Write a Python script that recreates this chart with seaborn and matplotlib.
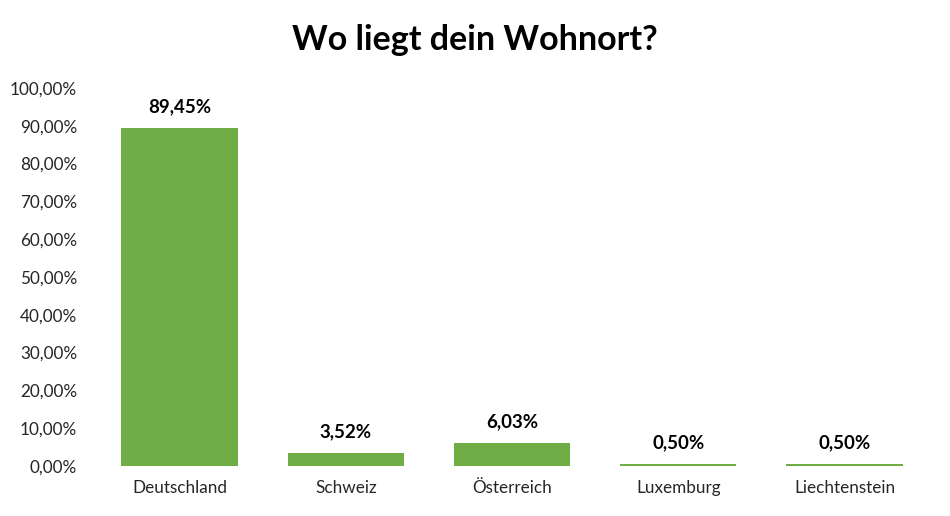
import matplotlib
matplotlib.use("Agg")
import matplotlib.pyplot as plt
import seaborn as sns
import pandas as pd
from matplotlib.ticker import FuncFormatter

categories = ["Deutschland", "Schweiz", "Österreich", "Luxemburg", "Liechtenstein"]
values = [89.45, 3.52, 6.03, 0.50, 0.50]
title = "Wo liegt dein Wohnort?"

sns.set_theme(style="white")
plt.rcParams['font.family'] = ['Lato', 'DejaVu Sans']

df = pd.DataFrame({"Land": categories, "Anteil": values})

fig = plt.figure(figsize=(9.5, 5.16), dpi=100)
ax = fig.add_axes([0.1015, 0.0969, 0.875, 0.7326])
sns.barplot(data=df, x="Land", y="Anteil", color="#70AD47", width=0.70,
            saturation=1, linewidth=0, edgecolor="none", ax=ax)

ax.set_ylim(0, 100)
ax.set_xlim(-0.5, len(categories) - 0.5)
ax.set_yticks(range(0, 101, 10))
ax.yaxis.set_major_formatter(FuncFormatter(lambda v, p: f"{v:.2f}".replace(".", ",") + "%"))
ax.tick_params(axis="y", labelsize=12.3, colors="#262626", length=0, pad=14)
ax.tick_params(axis="x", labelsize=12.3, colors="#262626", length=0, pad=10)
ax.set_xlabel("")
ax.set_ylabel("")
for s in ax.spines.values():
    s.set_visible(False)

for i, v in enumerate(values):
    ax.annotate(f"{v:.2f}".replace(".", ",") + "%", (i, v), xytext=(0, 9),
                textcoords="offset points", ha="center", va="bottom",
                fontsize=13.5, fontweight="bold", color="black")

fig.text(0.5, 0.922, title, ha="center", va="center", fontsize=24.5,
         fontweight="bold", color="black")

fig.savefig("out.png", dpi=100)
